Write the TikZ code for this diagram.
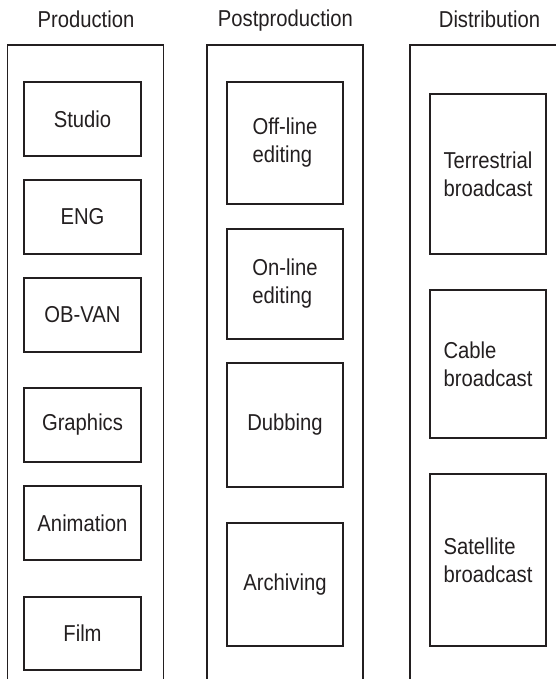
\documentclass[tikz,border=0pt]{standalone}
\usepackage{fontspec}
\usepackage{tikz}
\usetikzlibrary{positioning}
\newfontfamily\diagfont[FakeStretch=0.88]{Liberation Sans}
\definecolor{TVInk}{HTML}{231F20}
\tikzset{
  tvcolumn/.style={
    draw=TVInk,
    line width=1.3pt,
    minimum width=156pt,
    minimum height=660pt,
    inner sep=0pt
  },
  tvtitle/.style={
    anchor=base,
    text=TVInk,
    font=\diagfont\fontsize{23}{28}\selectfont
  },
  tvstage/.style={
    draw=TVInk,
    line width=1.5pt,
    align=left,
    text=TVInk,
    minimum width=116pt,
    inner sep=0pt,
    font=\diagfont\fontsize{23}{28}\selectfont
  }
}

\begin{document}
\begin{tikzpicture}[x=1pt,y=-1pt]
  \useasboundingbox (0,0) rectangle (556,679);
  \clip (0,0) rectangle (556,679);

  % the three columns, open at the foot of the page
  \node[tvcolumn] (prodcol) at (85.5,375) {};
  \node[tvcolumn] (postcol) at (285,375) {};
  \node[tvcolumn] (distcol) at (488,375) {};

  \node[tvtitle] (prodtitle) at (86,28) {Production};
  \node[tvtitle] (posttitle) at (285.5,27) {Postproduction};
  \node[tvtitle] (disttitle) at (489.5,28) {Distribution};

  % production
  \node[tvstage,minimum width=117pt,minimum height=74pt] (studio) at (82.5,119) {Studio};
  \node[tvstage,minimum width=117pt,minimum height=74pt] (eng) at (82.5,217) {ENG};
  \node[tvstage,minimum width=117pt,minimum height=74pt] (obvan) at (82.5,315) {OB-VAN};
  \node[tvstage,minimum width=117pt,minimum height=74pt] (graphics) at (82.5,425) {Graphics};
  \node[tvstage,minimum width=117pt,minimum height=74pt] (animation) at (82.5,523) {Animation};
  \node[tvstage,minimum width=117pt,minimum height=73pt] (film) at (82.5,633.5) {Film};

  % postproduction
  \node[tvstage,minimum height=122pt] (offline) at (285,143) {Off-line\\editing};
  \node[tvstage,minimum height=110pt] (online) at (285,284) {On-line\\editing};
  \node[tvstage,minimum height=124pt] (dubbing) at (285,425) {Dubbing};
  \node[tvstage,minimum height=123pt] (archiving) at (285,584.5) {Archiving};

  % distribution
  \node[tvstage,minimum height=160pt] (terrestrial) at (488,174) {Terrestrial\\broadcast};
  \node[tvstage,minimum height=148pt] (cable) at (488,364) {Cable\\broadcast};
  \node[tvstage,minimum height=172pt] (satellite) at (488,560) {Satellite\\broadcast};
\end{tikzpicture}
\end{document}
